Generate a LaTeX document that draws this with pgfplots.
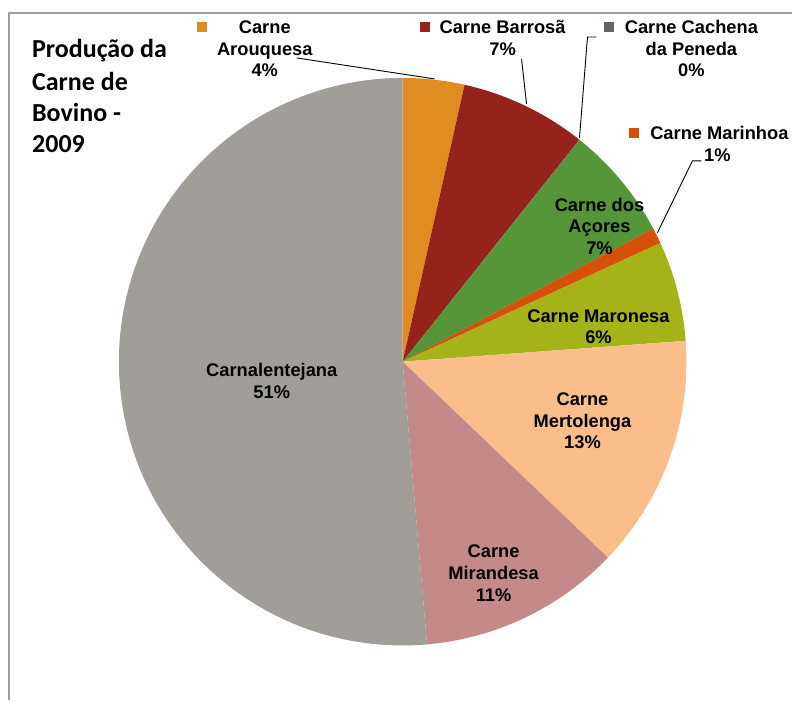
\documentclass[border=0pt]{standalone}
\usepackage{pgfplots}
\usepackage{pgfplotstable}
\pgfplotsset{compat=1.18}
\usepackage{fontspec}
\setmainfont{Liberation Sans}
\newfontfamily\titlefont{Carlito}
\definecolor{slice0}{HTML}{E08C20}
\definecolor{slice1}{HTML}{96231B}
\definecolor{slice2}{HTML}{69645F}
\definecolor{slice3}{HTML}{569638}
\definecolor{slice4}{HTML}{D6500A}
\definecolor{slice5}{HTML}{A4B418}
\definecolor{slice6}{HTML}{FBBD8A}
\definecolor{slice7}{HTML}{C48A89}
\definecolor{slice8}{HTML}{A19E99}
\pgfplotstableread{
name value
Arouquesa 3.5
Barrosa 7.2
Cachena 0.03
Acores 6.5
Marinhoa 0.9
Maronesa 5.7
Mertolenga 13.3
Mirandesa 11.5
Carnalentejana 51.37
}\piedata
\newcommand\lbl{\bfseries\fontsize{18.3}{21.5}\selectfont}
\begin{document}
\begin{tikzpicture}
\gdef\cumval{0}
\pgfplotsforeachungrouped \i in {0,...,8}{%
  \pgfplotstablegetelem{\i}{value}\of\piedata
  \pgfmathsetmacro\sa{90-3.6*\cumval}%
  \pgfmathsetmacro\cumval{\cumval+\pgfplotsretval}%
  \pgfmathsetmacro\sb{90-3.6*\cumval}%
  \expandafter\xdef\csname sa\i\endcsname{\sa}%
  \expandafter\xdef\csname sb\i\endcsname{\sb}%
}
\begin{axis}[scale only axis, width=793pt, height=701pt,
  xmin=0, xmax=793, ymin=0, ymax=701, hide axis, clip=false]
\path (axis cs:0,0) rectangle (axis cs:793,701);
\pgfplotsinvokeforeach{0,...,8}{%
  \edef\temp{\noexpand\fill[slice#1] (axis cs:403,339) -- (axis cs:{403+284*cos(\csname sa#1\endcsname)},{339+284*sin(\csname sa#1\endcsname)}) arc[start angle=\csname sa#1\endcsname, end angle=\csname sb#1\endcsname, radius=284pt] -- cycle;}%
  \temp
}
% frame
\draw[black!38, line width=1.4pt] (axis cs:9,0) -- (axis cs:9,688) -- (axis cs:793,688);
% title
\begin{scope}[every node/.style={anchor=base west, inner sep=0pt, font=\titlefont\bfseries\fontsize{26}{31}\selectfont}]
\node at (axis cs:32,643) {Produção da};
\node at (axis cs:32,610) {Carne de};
\node at (axis cs:32,579) {Bovino -};
\node at (axis cs:32,548) {2009};
\end{scope}
% legend squares
\fill[slice0] (axis cs:197,669) rectangle (axis cs:207,679);
\fill[slice1] (axis cs:420,669) rectangle (axis cs:430,679);
\fill[slice2] (axis cs:605,669) rectangle (axis cs:615,679);
\fill[slice4] (axis cs:630,563) rectangle (axis cs:640,573);
% leader lines
\draw[black, line width=0.9pt] (axis cs:297,643) -- (axis cs:435,622);
\draw[black, line width=0.9pt] (axis cs:522,642) -- (axis cs:527,597);
\draw[black, line width=0.9pt] (axis cs:597,664) -- (axis cs:588,664) -- (axis cs:580,563);
\draw[black, line width=0.9pt] (axis cs:702,540) -- (axis cs:693,540) -- (axis cs:658,468);
% labels
\begin{scope}[every node/.style={anchor=base, inner sep=0pt, font=\lbl}]
\node at (axis cs:265,667) {Carne};
\node at (axis cs:265,645) {Arouquesa};
\node at (axis cs:265,624) {4\%};
\node at (axis cs:503,667) {Carne Barrosã};
\node at (axis cs:503,645) {7\%};
\node at (axis cs:692,667) {Carne Cachena};
\node at (axis cs:692,645) {da Peneda};
\node at (axis cs:692,624) {0\%};
\node at (axis cs:720,561) {Carne Marinhoa};
\node at (axis cs:718,539) {1\%};
\node at (axis cs:600,489) {Carne dos};
\node at (axis cs:600,468) {Açores};
\node at (axis cs:600,446) {7\%};
\node at (axis cs:599,378) {Carne Maronesa};
\node at (axis cs:599,357) {6\%};
\node at (axis cs:583,295) {Carne};
\node at (axis cs:583,273) {Mertolenga};
\node at (axis cs:583,252) {13\%};
\node at (axis cs:494,143) {Carne};
\node at (axis cs:494,121) {Mirandesa};
\node at (axis cs:494,99) {11\%};
\node at (axis cs:272,324) {Carnalentejana};
\node at (axis cs:272,302) {51\%};
\end{scope}
\end{axis}
\end{tikzpicture}
\end{document}
